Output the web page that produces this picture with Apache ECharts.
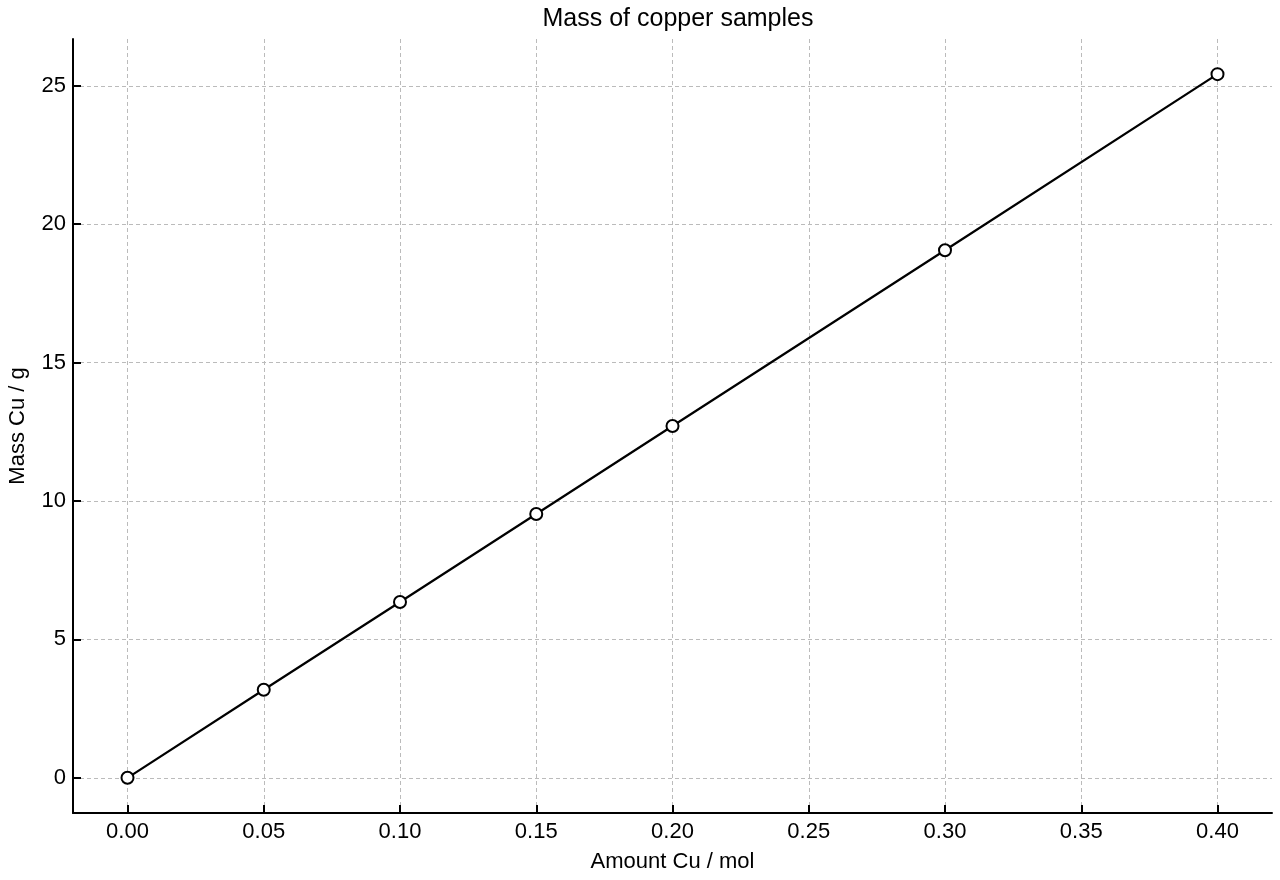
<!DOCTYPE html>
<html><head><meta charset="utf-8">
<script src="https://cdn.jsdelivr.net/npm/echarts@6/dist/echarts.min.js"></script>
<style>html,body{margin:0;padding:0;background:#fff}#c{width:1280px;height:880px}</style>
</head><body><div id="c"></div>
<script>
const amountMol = [0, 0.05, 0.10, 0.15, 0.20, 0.30, 0.40];
const massG = [0, 3.18, 6.35, 9.53, 12.71, 19.06, 25.42];
const xTicks = [0, 0.05, 0.10, 0.15, 0.20, 0.25, 0.30, 0.35, 0.40];
const yTicks = [0, 5, 10, 15, 20, 25];

const font = '"Liberation Sans", Arial, Helvetica, sans-serif';
const chart = echarts.init(document.getElementById('c'));
chart.setOption({
  animation: false,
  backgroundColor: '#fff',
  title: { text: 'Mass of copper samples', left: 673, textAlign: 'center', top: 2,
    textStyle: { fontFamily: font, fontSize: 25, fontWeight: 'normal', color: '#000' } },
  grid: { left: 73, right: 8, top: 39, bottom: 67, outerBoundsMode: 'none', containLabel: false },
  xAxis: {
    type: 'value', min: -0.02, max: 0.42,
    name: 'Amount Cu / mol', nameLocation: 'middle', nameGap: 38,
    nameTextStyle: { fontFamily: font, fontSize: 22, color: '#000' },
    axisLine: { show: true, onZero: false, lineStyle: { color: '#000', width: 2 } },
    axisTick: { show: true, inside: true, length: 8, customValues: xTicks, lineStyle: { color: '#000', width: 2 } },
    axisLabel: { customValues: xTicks, formatter: v => v.toFixed(2), margin: 8,
      fontFamily: font, fontSize: 22, color: '#000' },
    splitLine: { show: true, lineStyle: { color: '#bbb', type: [4, 3], width: 1 } }
  },
  yAxis: {
    type: 'value', min: -1.271, max: 26.69,
    name: 'Mass Cu / g', nameLocation: 'middle', nameGap: 44,
    nameTextStyle: { fontFamily: font, fontSize: 22, color: '#000' },
    axisLine: { show: true, onZero: false, lineStyle: { color: '#000', width: 2 } },
    axisTick: { show: true, inside: true, length: 8, customValues: yTicks, lineStyle: { color: '#000', width: 2 } },
    axisLabel: { customValues: yTicks, formatter: v => String(v), margin: 7,
      fontFamily: font, fontSize: 22, color: '#000' },
    splitLine: { show: true, lineStyle: { color: '#bbb', type: [4, 3], width: 1 } }
  },
  series: [{
    type: 'line',
    data: amountMol.map((x, i) => [x, massG[i]]),
    symbol: 'circle', symbolSize: 12,
    lineStyle: { color: '#000', width: 2.2 },
    itemStyle: { color: '#fff', borderColor: '#000', borderWidth: 2 },
    z: 5
  }]
});
</script></body></html>
